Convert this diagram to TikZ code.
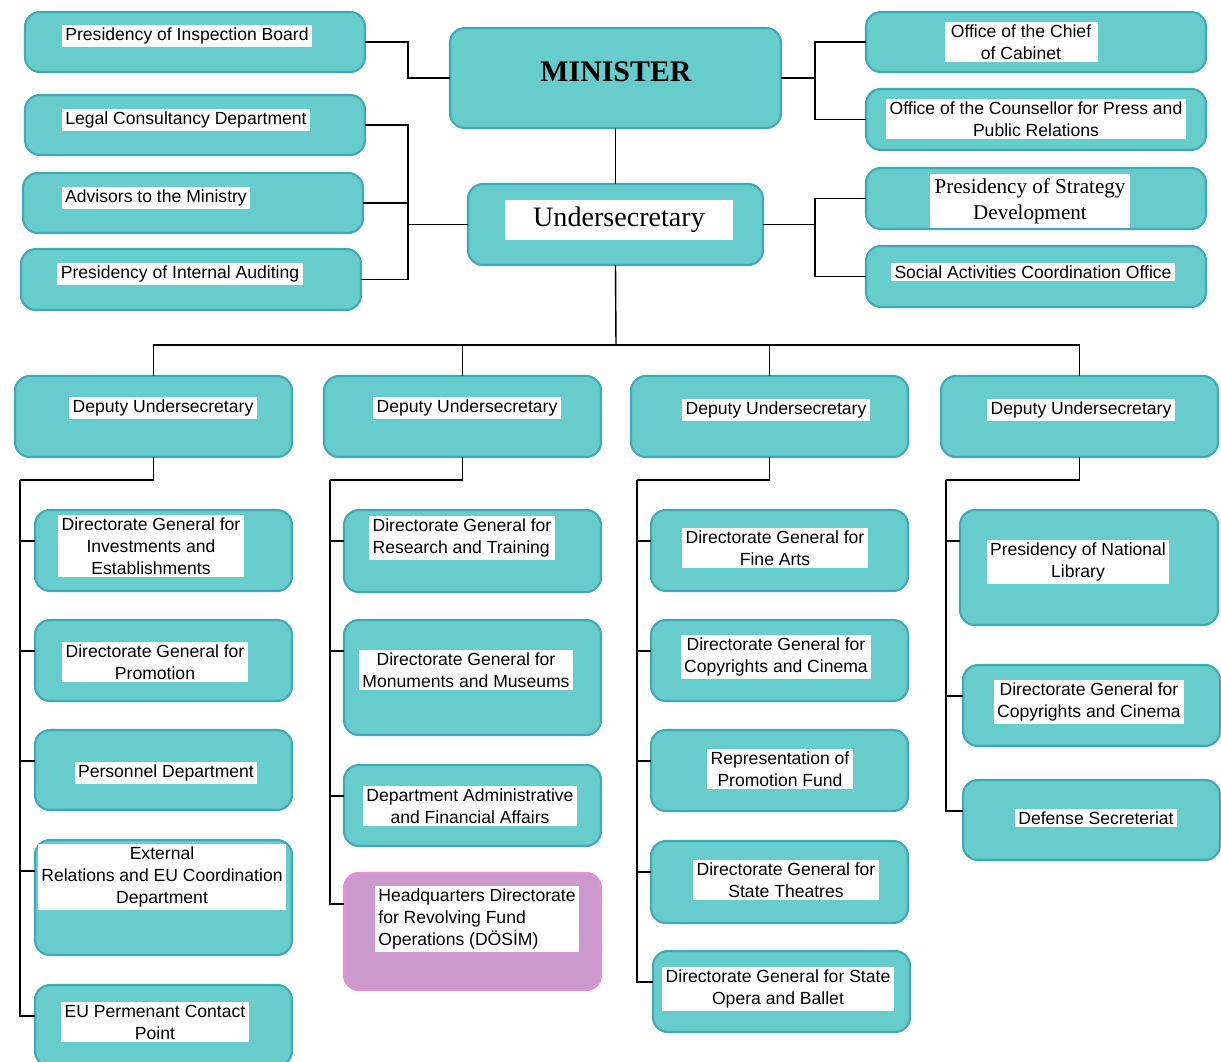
\documentclass[tikz,border=0pt]{standalone}
\usepackage{fontspec}
\setmainfont{Liberation Sans}
\newfontfamily\titlefont{Liberation Serif}
\definecolor{boxteal}{HTML}{66CCCC}
\definecolor{edgeteal}{HTML}{3FA9B5}
\definecolor{boxpink}{HTML}{CC99CC}
\definecolor{edgepink}{HTML}{E68ED6}
\usetikzlibrary{positioning, calc}
\newcommand{\feed}[2]
{
	\draw[wire] ($(#2.north west)+(0,31)$) -| (#1)
}

\begin{document}
\begin{tikzpicture}[x=0.02cm, y=-0.02cm,
	office/.style={shape=rectangle, rounded corners=0.3cm, fill=boxteal,
		draw=edgeteal, line width=1.2pt, inner sep=0pt, outer sep=0pt},
	dims/.style 2 args={minimum width=#1*0.02cm, minimum height=#2*0.02cm},
	caption/.style={fill=white, align=center, inner xsep=2pt, inner ysep=1.5pt,
		font=\fontsize{10}{12.5}\selectfont},
	wire/.style={line width=0.8pt, draw=black}]

	\fill[white] (0,0) rectangle (1221,1062);
	\useasboundingbox (0,0) rectangle (1221,1062);

	\node[office, dims={340}{60}] at (195, 42) (inspect){};
	\node[office, dims={340}{60}] at (195, 125) (legal){};
	\node[office, dims={340}{60}] at (193, 203) (advisors){};
	\node[office, dims={340}{61}] at (191, 279.5) (audit){};
	\node[office, dims={331}{100}] at (615.5, 78) (minister){};
	\node[office, dims={295}{81}] at (615.5, 224.5) (undersec){};
	\node[office, dims={340}{60}] at (1036, 42) (chief){};
	\node[office, dims={340}{61}] at (1036, 119.5) (press){};
	\node[office, dims={340}{61}] at (1036, 198.5) (strategy){};
	\node[office, dims={340}{61}] at (1036, 276.5) (social){};

	\node[office, dims={277}{81}] at (153.5, 416.5) (dep1){};
	\node[office, dims={277}{81}] at (462.5, 416.5) (dep2){};
	\node[office, dims={277}{81}] at (769.5, 416.5) (dep3){};
	\node[office, dims={277}{81}] at (1079.5, 416.5) (dep4){};

	\node[office, dims={257}{81}] at (163.5, 550.5) (invest){};
	\node[office, dims={257}{81}] at (163.5, 660.5) (promo){};
	\node[office, dims={257}{80}] at (163.5, 770) (personnel){};
	\node[office, dims={257}{115}] at (163.5, 897.5) (extrel){};
	\node[office, dims={257}{81}] at (163.5, 1025.5) (eucontact){};

	\node[office, dims={257}{82}] at (472.5, 551) (research){};
	\node[office, dims={257}{115}] at (472.5, 677.5) (monuments){};
	\node[office, dims={257}{81}] at (472.5, 805.5) (adminfin){};
	\node[office, dims={257}{117}, fill=boxpink, draw=edgepink] at (472.5, 931.5) (dosim){};

	\node[office, dims={257}{81}] at (779.5, 550.5) (finearts){};
	\node[office, dims={257}{81}] at (779.5, 660.5) (copyright){};
	\node[office, dims={257}{81}] at (779.5, 770.5) (promofund){};
	\node[office, dims={257}{82}] at (779.5, 882) (theatres){};
	\node[office, dims={257}{81}] at (781.5, 991.5) (opera){};

	\node[office, dims={258}{115}] at (1089, 567.5) (library){};
	\node[office, dims={257}{81}] at (1091.5, 705.5) (cinema){};
	\node[office, dims={257}{80}] at (1091.5, 820) (defense){};

	\node[caption] at (187, 36) (inspect-t){Presidency of Inspection Board};
	\node[caption] at (186, 120) (legal-t){Legal Consultancy Department};
	\node[caption] at (156, 198) (advisors-t){Advisors to the Ministry};
	\node[caption] at (180, 274) (audit-t){Presidency of Internal Auditing};
	\node[font=\titlefont\fontsize{17}{20}\selectfont\bfseries] at (616, 72) (minister-t){MINISTER};
	\node[caption, minimum width=228*0.02cm, minimum height=40*0.02cm,
		font=\titlefont\fontsize{16}{19}\selectfont] at (619, 220) (undersec-t){Undersecretary};
	\node[caption, minimum width=153*0.02cm] at (1021, 42) (chief-t){Office of the Chief\\ of Cabinet};
	\node[caption] at (1036, 119) (press-t){Office of the Counsellor for Press and\\Public Relations};
	\node[caption, minimum width=200*0.02cm, minimum height=54*0.02cm,
		font=\titlefont\fontsize{12}{14.7}\selectfont] at (1030, 201) (strategy-t){Presidency of Strategy\\Development};
	\node[caption] at (1033, 272) (social-t){Social Activities Coordination Office};

	\node[caption] at (163, 408) (dep1-t){Deputy Undersecretary};
	\node[caption] at (467, 408) (dep2-t){Deputy Undersecretary};
	\node[caption] at (776, 410) (dep3-t){Deputy Undersecretary};
	\node[caption] at (1081, 410) (dep4-t){Deputy Undersecretary};

	\node[caption] at (151, 546) (invest-t){Directorate General for\\Investments and\\Establishments};
	\node[caption] at (155, 662) (promo-t){Directorate General for\\Promotion};
	\node[caption] at (166, 773) (personnel-t){Personnel Department};
	\node[caption] at (162, 877) (extrel-t){External\\Relations and EU Coordination\\Department};
	\node[caption] at (155, 1022) (eucontact-t){EU Permenant Contact\\Point};

	\node[caption, align=left] at (462, 538) (research-t){Directorate General for\\Research and Training};
	\node[caption] at (466, 670) (monuments-t){Directorate General for\\Monuments and Museums};
	\node[caption] at (470, 806) (adminfin-t){Department Administrative\\and Financial Affairs};
	\node[caption, align=left] at (477, 919) (dosim-t){Headquarters Directorate\\for Revolving Fund\\Operations (DÖSİM)};

	\node[caption] at (775, 548) (finearts-t){Directorate General for\\Fine Arts};
	\node[caption] at (776, 657) (copyright-t){Directorate General for\\Copyrights and Cinema};
	\node[caption] at (780, 769) (promofund-t){Representation of\\Promotion Fund};
	\node[caption] at (786, 880) (theatres-t){Directorate General for\\State Theatres};
	\node[caption] at (778, 989) (opera-t){Directorate General for State\\Opera and Ballet};

	\node[caption] at (1078, 562) (library-t){Presidency of National\\Library};
	\node[caption] at (1089, 702) (cinema-t){Directorate General for\\Copyrights and Cinema};
	\node[caption] at (1096, 818) (defense-t){Defense Secreteriat};

	\coordinate (hubL) at (408, 0);
	\coordinate (hubR) at (815, 0);
	\draw[wire] (inspect.east) -| (hubL |- minister.west) -- (minister.west);
	\draw[wire] (legal.east) -| (hubL |- audit.east) -- (audit.east);
	\draw[wire] (advisors.east) -- (hubL |- advisors.east);
	\draw[wire] (undersec.west) -- (hubL |- undersec.west);
	\draw[wire] (minister.east) -- (hubR |- minister.east);
	\draw[wire] (chief.west) -| (hubR |- press.west) -- (press.west);
	\draw[wire] (strategy.west) -| (hubR |- social.west) -- (social.west);
	\draw[wire] (undersec.east) -- (hubR |- undersec.east);
	\draw[wire] (minister.south) -- (undersec.north);

	\coordinate (bus) at (616, 345);
	\draw[wire] (undersec.south) -- (bus);
	\draw[wire] (dep1.north) |- (bus) -| (dep4.north);
	\draw[wire] (dep2.north) -- (dep2.north |- bus);
	\draw[wire] (dep3.north) -- (dep3.north |- bus);

	\coordinate (spine1) at (20, 480);
	\coordinate (spine2) at (330, 480);
	\coordinate (spine3) at (637, 480);
	\coordinate (spine4) at (946, 480);
	\draw[wire] (dep1.south) |- (spine1);
	\draw[wire] (dep2.south) |- (spine2);
	\draw[wire] (dep3.south) |- (spine3);
	\draw[wire] (dep4.south) |- (spine4);

	\feed{spine1}{invest};
	\feed{spine1}{promo};
	\feed{spine1}{personnel};
	\feed{spine1}{extrel};
	\feed{spine1}{eucontact};
	\feed{spine2}{research};
	\feed{spine2}{monuments};
	\feed{spine2}{adminfin};
	\feed{spine2}{dosim};
	\feed{spine3}{finearts};
	\feed{spine3}{copyright};
	\feed{spine3}{promofund};
	\feed{spine3}{theatres};
	\feed{spine3}{opera};
	\feed{spine4}{library};
	\feed{spine4}{cinema};
	\feed{spine4}{defense};
\end{tikzpicture}
\end{document}
